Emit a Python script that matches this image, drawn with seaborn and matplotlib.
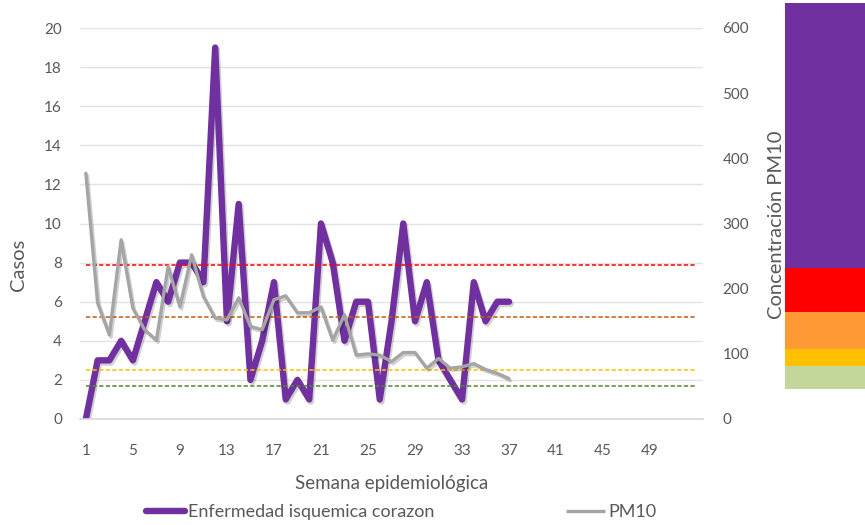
import matplotlib
matplotlib.use("Agg")
import matplotlib.pyplot as plt
import matplotlib.patheffects as pe
from matplotlib.lines import Line2D
import numpy as np
import pandas as pd
import seaborn as sns

# Weekly series
weeks = list(range(1, 38))
cases = [0, 3, 3, 4, 3, 5, 7, 6, 8, 8, 7, 19, 5, 11, 2, 4, 7, 1, 2, 1,
         10, 8, 4, 6, 6, 1, 5, 10, 5, 7, 3, 2, 1, 7, 5, 6, 6]
pm10 = [377, 178, 129, 275, 170, 137, 121, 234, 172, 252, 188, 155, 152, 186,
        142, 137, 183, 189, 163, 163, 172, 121, 160, 98, 100, 98, 88, 102, 102,
        78, 93, 78, 80, 85, 76, 70, 62]

# Reference thresholds for PM10 (dashed lines)
threshold_values = [236, 157, 75, 50]
threshold_colors = ["#FF0000", "#C55A11", "#FFC000", "#548235"]

# Colour scale bands for PM10 (bottom -> top)
band_edges = [46, 81, 107, 164, 232, 638]
band_colors = ["#C4D79B", "#FFC000", "#FF9933", "#FF0000", "#7030A0"]

x_ticks = list(range(1, 52, 4))
series_names = ["Enfermedad isquemica corazon", "PM10"]
purple = "#7030A0"
grey = "#A5A5A5"
text_color = "#595959"

df = pd.DataFrame({"semana": weeks, "casos": cases, "pm10": pm10})

sns.set_theme(style="white")
plt.rcParams["font.family"] = ["Lato", "DejaVu Sans"]
plt.rcParams["font.size"] = 13
plt.rcParams["text.color"] = text_color
plt.rcParams["axes.labelcolor"] = text_color
plt.rcParams["xtick.color"] = text_color
plt.rcParams["ytick.color"] = text_color

W, H = 865, 525
fig = plt.figure(figsize=(W / 100, H / 100), dpi=100)

left_px, right_px, top_px, bottom_px = 80, 703, 28, 419
ax = fig.add_axes([left_px / W, 1 - bottom_px / H,
                   (right_px - left_px) / W, (bottom_px - top_px) / H])
ax2 = ax.twinx()

shadow = [pe.SimpleLineShadow(offset=(1.2, -1.6), shadow_color="black", alpha=0.18),
          pe.Normal()]

# Left axis: cases
sns.lineplot(data=df, x="semana", y="casos", ax=ax, color=purple,
             linewidth=4.6, solid_joinstyle="round", solid_capstyle="round",
             path_effects=shadow, legend=False)

# Right axis: thresholds and PM10
for val, col in zip(threshold_values, threshold_colors):
    ax2.hlines(val, 1, 53, colors=col, linewidth=1.1,
               linestyles=[(0, (2.8, 1.5))])
sns.lineplot(data=df, x="semana", y="pm10", ax=ax2, color=grey,
             linewidth=2.4, solid_joinstyle="round", solid_capstyle="round",
             path_effects=shadow, legend=False)

ax.set_xlim(0.5, 53.5)
ax.set_ylim(0, 20)
ax.set_yticks(range(0, 21, 2))
ax.set_xticks(x_ticks)
ax2.set_ylim(0, 600)
ax2.set_yticks(range(0, 601, 100))

ax.grid(axis="y", color="#E3E3E3", linewidth=1.0)
ax.grid(axis="x", visible=False)
ax2.grid(False)
for sp in ["top", "left", "right"]:
    ax.spines[sp].set_visible(False)
ax.spines["bottom"].set_color("#D9D9D9")
ax.spines["bottom"].set_linewidth(1.2)
for sp in ax2.spines.values():
    sp.set_visible(False)

ax.tick_params(axis="both", length=0)
ax.tick_params(axis="y", pad=13)
ax.tick_params(axis="x", pad=18)
ax2.tick_params(axis="y", length=0, pad=14)

ax.set_xlabel("Semana epidemiológica", labelpad=12, fontsize=13.5)
ax.set_ylabel("Casos", fontsize=14.5)
ax.yaxis.set_label_coords(-0.085, 0.394)
ax2.set_ylabel("Concentración PM10", fontsize=14.5)
ax2.yaxis.set_label_coords(1.104, 0.496)

# Colour strip for PM10 categories
sax = fig.add_axes([785 / W, 1 - bottom_px / H, 80 / W, (bottom_px - top_px) / H])
sax.set_ylim(0, 600)
sax.set_xlim(0, 1)
for lo, hi, col in zip(band_edges[:-1], band_edges[1:], band_colors):
    sax.bar(0, hi - lo, bottom=lo, width=1, align="edge", color=col,
            linewidth=0, clip_on=False)
sax.axis("off")

handles = [Line2D([], [], color=purple, linewidth=4.6, solid_capstyle="round"),
           Line2D([], [], color=grey, linewidth=2.4, solid_capstyle="butt")]
fig.legend(handles, series_names, loc="center", bbox_to_anchor=(401 / W, 1 - 512 / H),
           ncol=2, frameon=False, fontsize=13, handlelength=2.15,
           handletextpad=0.17, columnspacing=7.3)

fig.savefig("out.png", dpi=100)
